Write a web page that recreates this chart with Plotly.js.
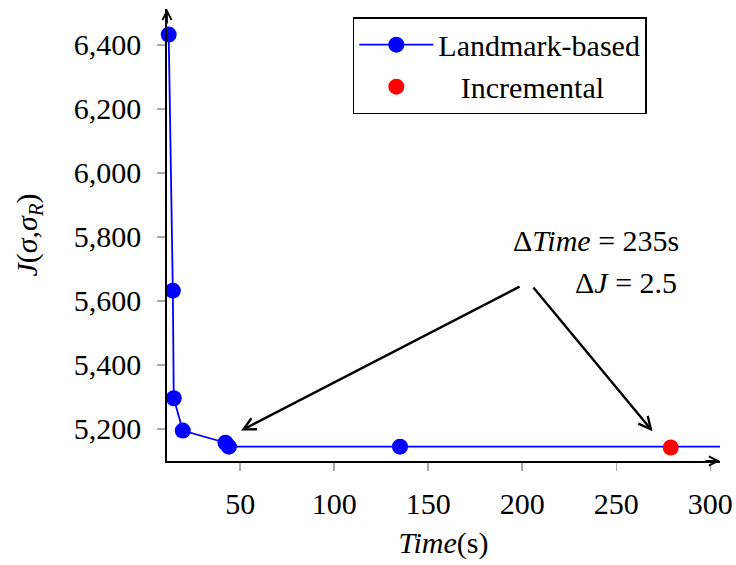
<!DOCTYPE html>
<html>
<head>
<meta charset="utf-8">
<script src="https://cdn.plot.ly/plotly-3.0.1.min.js"></script>
<style>
  html, body { margin: 0; padding: 0; background: #fff; }
  #chart { width: 736px; height: 565px; }
  #chart text { font-family: 'Liberation Serif', 'Times New Roman', serif !important; fill: #000 !important; }
</style>
</head>
<body>
<div id="chart"></div>
<script>
// Cost J versus run time for the two optimisation strategies
const landmarkTime = [12, 14.2, 14.7, 19.5, 42.2, 44, 135];
const landmarkJ = [6432, 5632, 5296, 5195, 5157, 5144.7, 5144.7];
const incrementalTime = [279];
const incrementalJ = [5142.2];

const xTicks = [50, 100, 150, 200, 250, 300];
const yTicks = [5200, 5400, 5600, 5800, 6000, 6200, 6400];
const yTickText = ['5,200', '5,400', '5,600', '5,800', '6,000', '6,200', '6,400'];

const xRange = [11.1, 305.2];
const yRange = [5100, 6512];

const FONT = 'Liberation Serif';
const INK = '#000000';
const BLUE = '#0000ff';
const RED = '#ff0000';
const TICK_GREY = '#a8a8a8';

// best landmark cost held flat to the end of the time axis
const bestJ = landmarkJ[landmarkJ.length - 1];
const lastTime = landmarkTime[landmarkTime.length - 1];

const traces = [
  {
    x: [lastTime, xRange[1]], y: [bestJ, bestJ],
    mode: 'lines', line: {color: BLUE, width: 1.8},
    showlegend: false, hoverinfo: 'skip', cliponaxis: false
  },
  {
    x: landmarkTime, y: landmarkJ, name: 'Landmark-based',
    mode: 'lines+markers',
    line: {color: BLUE, width: 1.8},
    marker: {color: BLUE, size: 16},
    cliponaxis: false
  },
  {
    x: incrementalTime, y: incrementalJ, name: '\u00a0\u00a0\u00a0Incremental',
    mode: 'markers',
    marker: {color: RED, size: 16},
    cliponaxis: false
  }
];

function axisBase() {
  return {
    showgrid: false, zeroline: false,
    showline: true, linecolor: INK, linewidth: 1.8,
    ticks: 'outside', ticklen: 8, tickwidth: 1.4, tickcolor: TICK_GREY,
    tickfont: {family: FONT, size: 30, color: INK}
  };
}

// twin axes carry the inward half of each crossing tick mark
function twinBase() {
  return {
    showgrid: false, zeroline: false, showline: false,
    ticks: 'inside', ticklen: 8, tickwidth: 1.4, tickcolor: TICK_GREY,
    showticklabels: false
  };
}

const layout = {
  width: 736, height: 565,
  margin: {l: 167, r: 16, t: 9, b: 104},
  font: {family: FONT, size: 30, color: INK},
  xaxis: Object.assign(axisBase(), {
    range: xRange, tickmode: 'array', tickvals: xTicks,
    ticklabelstandoff: 7,
    title: {text: '<i>Time</i>(s)', font: {family: FONT, size: 30, color: INK}, standoff: 13}
  }),
  yaxis: Object.assign(axisBase(), {
    range: yRange, tickmode: 'array', tickvals: yTicks, ticktext: yTickText,
    ticklabelstandoff: 10,
    title: {text: '<i>J</i>(<i>σ</i>,<i>σ</i><sub><i>R</i></sub>)', font: {family: FONT, size: 30, color: INK}, standoff: 27}
  }),
  xaxis2: Object.assign(twinBase(), {
    overlaying: 'x', anchor: 'y', side: 'bottom',
    range: xRange, tickmode: 'array', tickvals: xTicks
  }),
  yaxis2: Object.assign(twinBase(), {
    overlaying: 'y', anchor: 'x', side: 'left',
    range: yRange, tickmode: 'array', tickvals: yTicks
  }),
  legend: {
    x: 0.336, y: 0.982, xanchor: 'left', yanchor: 'top',
    bgcolor: '#fff', bordercolor: INK, borderwidth: 1.5,
    font: {family: FONT, size: 30, color: INK},
    itemwidth: 74, tracegroupgap: 0
  },
  annotations: [
    // axis arrow tips
    {xref: 'paper', yref: 'paper', x: 1, y: 0, ax: -16, ay: 0, axref: 'pixel', ayref: 'pixel',
     text: '', showarrow: true, arrowhead: 5, arrowsize: 1, arrowwidth: 1.8, arrowcolor: INK},
    {xref: 'paper', yref: 'paper', x: 0, y: 1, ax: 0, ay: 16, axref: 'pixel', ayref: 'pixel',
     text: '', showarrow: true, arrowhead: 5, arrowsize: 1, arrowwidth: 1.8, arrowcolor: INK},
    // difference labels
    {xref: 'x', yref: 'y', x: 284.5, y: 5790, xanchor: 'right', yanchor: 'middle',
     text: 'Δ<i>Time</i> = 235s', showarrow: false, font: {family: FONT, size: 30, color: INK}},
    {xref: 'x', yref: 'y', x: 283.5, y: 5659, xanchor: 'right', yanchor: 'middle',
     text: 'Δ<i>J</i> = 2.5', showarrow: false, font: {family: FONT, size: 30, color: INK}},
    // pointers to the two compared results
    {xref: 'x', yref: 'y', x: 50.5, y: 5195, axref: 'x', ayref: 'y', ax: 199.4, ay: 5647,
     text: '', showarrow: true, arrowhead: 5, arrowsize: 1, arrowwidth: 2.4, arrowcolor: INK},
    {xref: 'x', yref: 'y', x: 269.3, y: 5193, axref: 'x', ayref: 'y', ax: 205.3, ay: 5647,
     text: '', showarrow: true, arrowhead: 5, arrowsize: 1, arrowwidth: 2.4, arrowcolor: INK}
  ],
  showlegend: true
};

Plotly.newPlot('chart', traces, layout, {staticPlot: true});
</script>
</body>
</html>
